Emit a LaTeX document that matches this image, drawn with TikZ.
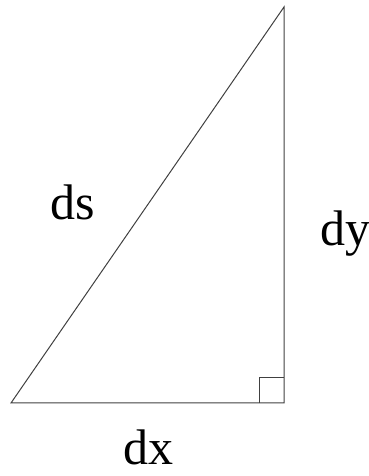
\documentclass[tikz,border=0pt]{standalone}
\usepackage{fontspec}
\setmainfont{Liberation Serif}
\usetikzlibrary{positioning,calc}

\tikzset{
  side/.style={draw=black!75, line width=1pt},
  sidelabel/.style={anchor=base, inner sep=0pt, text depth=0pt, font=\fontsize{50}{60}\selectfont}
}

\begin{document}
\begin{tikzpicture}[x=1pt, y=1pt]

% Frame
\useasboundingbox (0,0) rectangle (369,476);

% Corners
\coordinate (A) at (11,73);
\coordinate (B) at (284,73);
\coordinate (C) at (284,469);

% Triangle
\draw[side] (A) -- (B) -- (C) -- cycle;

% Right angle mark
\draw[side] ($(B)+(-25,0)$) -- ($(B)+(-25,25)$) -- ($(B)+(0,25)$);

% Labels
\node[sidelabel] (ds) at (73,256) {ds};
\node[sidelabel] (dy) at (345,230) {dy};
\node[sidelabel] (dx) at (148,12) {dx};

\end{tikzpicture}
\end{document}
